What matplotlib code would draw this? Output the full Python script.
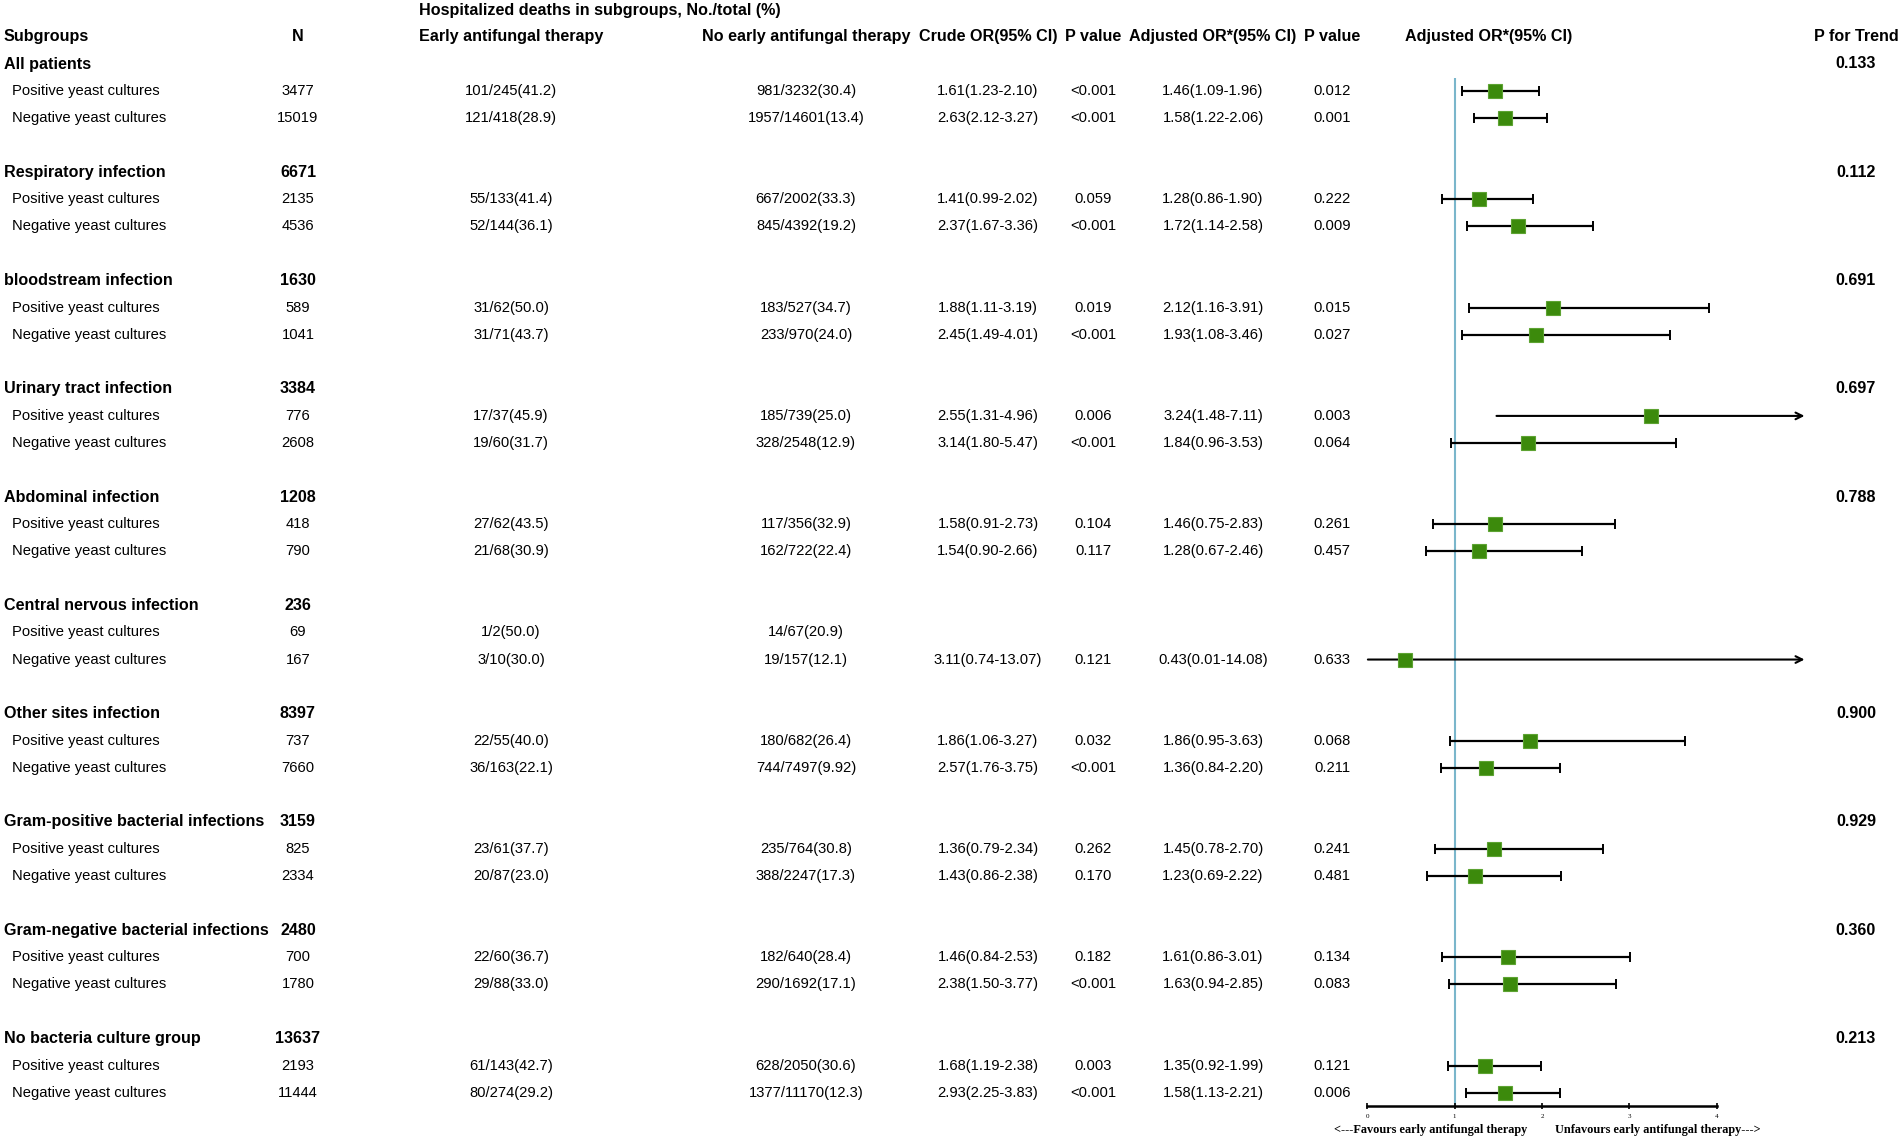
import numpy as np
import matplotlib
matplotlib.use("Agg")
import matplotlib.pyplot as plt

plt.rcParams['font.family'] = ['Liberation Sans', 'DejaVu Sans']

# ---------------- data ----------------
groups = ["All patients", "Respiratory infection", "bloodstream infection",
          "Urinary tract infection", "Abdominal infection", "Central nervous infection",
          "Other sites infection", "Gram-positive bacterial infections",
          "Gram-negative bacterial infections", "No bacteria culture group"]
group_n = ["", "6671", "1630", "3384", "1208", "236", "8397", "3159", "2480", "13637"]
p_trend = ["0.133", "0.112", "0.691", "0.697", "0.788", "", "0.900", "0.929", "0.360", "0.213"]
sub_labels = ["Positive yeast cultures", "Negative yeast cultures"]

sub_n = ["3477", "15019", "2135", "4536", "589", "1041", "776", "2608", "418", "790",
         "69", "167", "737", "7660", "825", "2334", "700", "1780", "2193", "11444"]
early = ["101/245(41.2)", "121/418(28.9)", "55/133(41.4)", "52/144(36.1)",
         "31/62(50.0)", "31/71(43.7)", "17/37(45.9)", "19/60(31.7)",
         "27/62(43.5)", "21/68(30.9)", "1/2(50.0)", "3/10(30.0)",
         "22/55(40.0)", "36/163(22.1)", "23/61(37.7)", "20/87(23.0)",
         "22/60(36.7)", "29/88(33.0)", "61/143(42.7)", "80/274(29.2)"]
no_early = ["981/3232(30.4)", "1957/14601(13.4)", "667/2002(33.3)", "845/4392(19.2)",
            "183/527(34.7)", "233/970(24.0)", "185/739(25.0)", "328/2548(12.9)",
            "117/356(32.9)", "162/722(22.4)", "14/67(20.9)", "19/157(12.1)",
            "180/682(26.4)", "744/7497(9.92)", "235/764(30.8)", "388/2247(17.3)",
            "182/640(28.4)", "290/1692(17.1)", "628/2050(30.6)", "1377/11170(12.3)"]
crude = ["1.61(1.23-2.10)", "2.63(2.12-3.27)", "1.41(0.99-2.02)", "2.37(1.67-3.36)",
         "1.88(1.11-3.19)", "2.45(1.49-4.01)", "2.55(1.31-4.96)", "3.14(1.80-5.47)",
         "1.58(0.91-2.73)", "1.54(0.90-2.66)", "", "3.11(0.74-13.07)",
         "1.86(1.06-3.27)", "2.57(1.76-3.75)", "1.36(0.79-2.34)", "1.43(0.86-2.38)",
         "1.46(0.84-2.53)", "2.38(1.50-3.77)", "1.68(1.19-2.38)", "2.93(2.25-3.83)"]
p_crude = ["<0.001", "<0.001", "0.059", "<0.001", "0.019", "<0.001", "0.006", "<0.001",
           "0.104", "0.117", "", "0.121", "0.032", "<0.001", "0.262", "0.170",
           "0.182", "<0.001", "0.003", "<0.001"]
adj_text = ["1.46(1.09-1.96)", "1.58(1.22-2.06)", "1.28(0.86-1.90)", "1.72(1.14-2.58)",
            "2.12(1.16-3.91)", "1.93(1.08-3.46)", "3.24(1.48-7.11)", "1.84(0.96-3.53)",
            "1.46(0.75-2.83)", "1.28(0.67-2.46)", "", "0.43(0.01-14.08)",
            "1.86(0.95-3.63)", "1.36(0.84-2.20)", "1.45(0.78-2.70)", "1.23(0.69-2.22)",
            "1.61(0.86-3.01)", "1.63(0.94-2.85)", "1.35(0.92-1.99)", "1.58(1.13-2.21)"]
p_adj = ["0.012", "0.001", "0.222", "0.009", "0.015", "0.027", "0.003", "0.064",
         "0.261", "0.457", "", "0.633", "0.068", "0.211", "0.241", "0.481",
         "0.134", "0.083", "0.121", "0.006"]
adj_or = [1.46, 1.58, 1.28, 1.72, 2.12, 1.93, 3.24, 1.84, 1.46, 1.28,
          np.nan, 0.43, 1.86, 1.36, 1.45, 1.23, 1.61, 1.63, 1.35, 1.58]
adj_lo = [1.09, 1.22, 0.86, 1.14, 1.16, 1.08, 1.48, 0.96, 0.75, 0.67,
          np.nan, 0.01, 0.95, 0.84, 0.78, 0.69, 0.86, 0.94, 0.92, 1.13]
adj_hi = [1.96, 2.06, 1.90, 2.58, 3.91, 3.46, 7.11, 3.53, 2.83, 2.46,
          np.nan, 14.08, 3.63, 2.20, 2.70, 2.22, 3.01, 2.85, 1.99, 2.21]
axis_ticks = [0, 1, 2, 3, 4]
XCLIP = 5.0  # display limit for long CIs (arrows)

# ---------------- layout ----------------
W, H = 1902, 1140
ROW0, DY = 64.0, 27.07
def row_of_px(py):
    return (py - ROW0) / DY

fig = plt.figure(figsize=(W / 100, H / 100), dpi=100)
tab = fig.add_axes([0, 0, 1, 1])
tab.set_xlim(0, W)
tab.set_ylim(row_of_px(H), row_of_px(0))
tab.axis('off')

FS, FSB = 10.6, 11.6
def t(x, r, s, ha='center', bold=False):
    tab.text(x, r, s, ha=ha, va='center', fontsize=FSB if bold else FS,
             fontweight='bold' if bold else 'normal', color='black')

# columns (pixel x)
X_LAB, X_SUB, X_N, X_E, X_NE, X_CR, X_P1, X_ADJ, X_P2, X_FOR, X_TR = \
    4, 12, 298, 511, 806, 988, 1093, 1213, 1332, 1489, 1856

# headers
t(419, row_of_px(10), "Hospitalized deaths in subgroups, No./total (%)", ha='left', bold=True)
hr = -1
t(X_LAB, hr, "Subgroups", ha='left', bold=True)
t(X_N, hr, "N", bold=True)
t(X_E, hr, "Early antifungal therapy", bold=True)
t(X_NE, hr, "No early antifungal therapy", bold=True)
t(X_CR, hr, "Crude OR(95% CI)", bold=True)
t(X_P1, hr, "P value", bold=True)
t(X_ADJ, hr, "Adjusted OR*(95% CI)", bold=True)
t(X_P2, hr, "P value", bold=True)
t(X_FOR, hr, "Adjusted OR*(95% CI)", bold=True)
t(X_TR, hr, "P for Trend", bold=True)

sub_rows = []
for g, name in enumerate(groups):
    r = 4 * g
    t(X_LAB, r, name, ha='left', bold=True)
    t(X_N, r, group_n[g], bold=True)
    t(X_TR, r, p_trend[g], bold=True)
    for k in range(2):
        i = 2 * g + k
        rr = r + 1 + k
        sub_rows.append(rr)
        t(X_SUB, rr, sub_labels[k], ha='left')
        t(X_N, rr, sub_n[i])
        t(X_E, rr, early[i])
        t(X_NE, rr, no_early[i])
        t(X_CR, rr, crude[i])
        t(X_P1, rr, p_crude[i])
        t(X_ADJ, rr, adj_text[i])
        t(X_P2, rr, p_adj[i])

# ---------------- forest ----------------
X0_PX, UNIT = 1367.0, 87.5
fl, fr = 1330.0, 1840.0
fax = fig.add_axes([fl / W, 0, (fr - fl) / W, 1])
fax.set_xlim((fl - X0_PX) / UNIT, (fr - X0_PX) / UNIT)
fax.set_ylim(row_of_px(H), row_of_px(0))
fax.axis('off')

axis_row = row_of_px(1106)
fax.vlines(1, 0.5, axis_row, color='#7ab6cb', lw=1.5, zorder=1)

or_a = np.array(adj_or); lo_a = np.array(adj_lo); hi_a = np.array(adj_hi)
rows_a = np.array(sub_rows, dtype=float)
green_face, green_edge = '#3c8a0c', '#5da332'
for o, lo, hi, rr in zip(or_a, lo_a, hi_a, rows_a):
    if np.isnan(o):
        continue
    if hi > XCLIP:
        fax.annotate("", xy=(XCLIP, rr), xytext=(lo, rr),
                     arrowprops=dict(arrowstyle='->', color='black', lw=1.5,
                                     shrinkA=0, shrinkB=0, mutation_scale=12),
                     zorder=2)
    else:
        fax.errorbar([o], [rr], xerr=[[o - lo], [hi - o]], fmt='none',
                     ecolor='black', elinewidth=1.6, capsize=3.6, capthick=1.4, zorder=2)
    fax.plot([o], [rr], marker='s', ms=9.5, mfc=green_face, mec=green_edge,
             mew=0.8, ls='none', zorder=3)

# bottom scale axis
ax_y = 1 - 1106 / H
sc = fig.add_axes([X0_PX / W, ax_y, 4 * UNIT / W, 0.02])
sc.set_xlim(0, 4)
sc.set_xticks(axis_ticks)
sc.set_xticklabels([str(v) for v in axis_ticks], fontsize=5,
                   family=['Liberation Serif', 'DejaVu Serif'])
sc.set_yticks([])
for s in ['top', 'left', 'right']:
    sc.spines[s].set_visible(False)
sc.spines['bottom'].set_linewidth(1.8)
sc.tick_params(axis='x', direction='inout', length=5, width=1.2, pad=3)
sc.patch.set_alpha(0)

fav_r = row_of_px(1130)
tab.text(1527, fav_r, "<---Favours early antifungal therapy", ha='right', va='center',
         fontsize=8.8, fontweight='bold', family=['Liberation Serif', 'DejaVu Serif'])
tab.text(1555, fav_r, "Unfavours early antifungal therapy--->", ha='left', va='center',
         fontsize=8.8, fontweight='bold', family=['Liberation Serif', 'DejaVu Serif'])

fig.savefig("out.png", dpi=100, facecolor='white')
